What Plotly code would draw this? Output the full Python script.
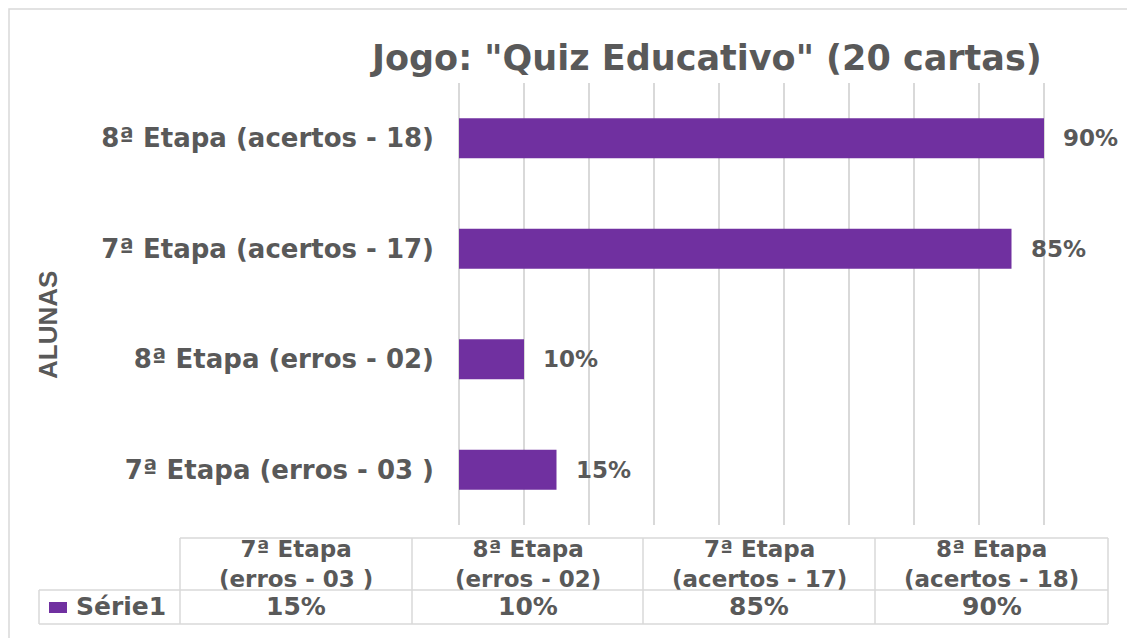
import plotly.graph_objects as go

# data (bottom to top, same order as the data table columns)
categories = [
    "7ª Etapa (erros - 03 )",
    "8ª Etapa (erros - 02)",
    "7ª Etapa (acertos - 17)",
    "8ª Etapa (acertos - 18)",
]
values = [0.15, 0.10, 0.85, 0.90]
series_name = "Série1"
title_text = 'Jogo: "Quiz Educativo" (20 cartas)'
axis_title = "ALUNAS"

OFF = 8  # page body margin of the browser
W, H = 1135 - OFF, 638 - OFF
L, R, T, B = 459, 1109, 83, 525   # plot area in screen pixels
GREY = "#595959"
LINE = "#D9D9D9"
PURPLE = "#7030A0"
FONT = "DejaVu Sans"


def px_x(p):
    return (p - L) / (R - L)


def px_y(p):
    return (B - p) / (B - T)


fig = go.Figure()

fig.add_trace(go.Bar(
    y=categories,
    x=values,
    orientation="h",
    name=series_name,
    marker=dict(color=PURPLE, line=dict(width=0)),
    width=0.36,
    showlegend=False,
))

annotations = []

# data labels next to bars
for cat, v in zip(categories, values):
    annotations.append(dict(
        x=v, y=cat, xref="x", yref="y",
        text=f"{v:.0%}", showarrow=False,
        xanchor="left", xshift=17,
        font=dict(family=FONT, size=23, color=GREY, weight="bold"),
    ))

# title
annotations.append(dict(
    x=px_x(706), y=px_y(58), xref="paper", yref="paper",
    text=title_text, showarrow=False, xanchor="center", yanchor="middle",
    font=dict(family=FONT, size=35, color=GREY, weight="bold"),
))

# y axis title
annotations.append(dict(
    x=px_x(48), y=px_y(325), xref="paper", yref="paper",
    text=axis_title, showarrow=False, textangle=-90,
    xanchor="center", yanchor="middle",
    font=dict(family="Liberation Sans", size=26, color=GREY, weight="bold"),
))

# data table
col_edges = [180, 412, 643, 875, 1108]
row_top, row_mid, row_bot = 538, 590, 624
key_left = 39

shapes = []


def hline(y, x0, x1):
    shapes.append(dict(type="line", xref="paper", yref="paper",
                       x0=px_x(x0), x1=px_x(x1), y0=px_y(y), y1=px_y(y),
                       line=dict(color=LINE, width=1.5)))


def vline(x, y0, y1):
    shapes.append(dict(type="line", xref="paper", yref="paper",
                       x0=px_x(x), x1=px_x(x), y0=px_y(y0), y1=px_y(y1),
                       line=dict(color=LINE, width=1.5)))


hline(row_top, col_edges[0], col_edges[-1])
hline(row_mid, key_left, col_edges[-1])
hline(row_bot, key_left, col_edges[-1])
vline(key_left, row_mid, row_bot)
for ce in col_edges:
    vline(ce, row_top, row_bot)

hfont = dict(family=FONT, size=23, color=GREY, weight="bold")
tfont = dict(family=FONT, size=25, color=GREY, weight="bold")
for i, (cat, v) in enumerate(zip(categories, values)):
    cx = (col_edges[i] + col_edges[i + 1]) / 2
    head, sep, tail = cat.partition(" (")
    annotations.append(dict(x=px_x(cx), y=px_y(564), xref="paper", yref="paper",
                            text=head + "<br>(" + tail, showarrow=False,
                            xanchor="center", yanchor="middle", font=hfont))
    annotations.append(dict(x=px_x(cx), y=px_y(606), xref="paper", yref="paper",
                            text=f"{v:.0%}", showarrow=False, xanchor="center",
                            yanchor="middle", font=tfont))

# legend key + series name in table
shapes.append(dict(type="rect", xref="paper", yref="paper",
                   x0=px_x(49), x1=px_x(67), y0=px_y(613), y1=px_y(602),
                   fillcolor=PURPLE, line=dict(width=0)))
annotations.append(dict(x=px_x(74), y=px_y(606), xref="paper", yref="paper",
                        text=series_name, showarrow=False, xanchor="left",
                        yanchor="middle", font=tfont))

# outer chart border (left and top visible)
shapes.append(dict(type="rect", xref="paper", yref="paper",
                   x0=px_x(9), x1=px_x(1160), y0=px_y(9), y1=px_y(660),
                   line=dict(color=LINE, width=1.5), layer="below"))

fig.update_layout(
    width=W, height=H,
    margin=dict(l=L - OFF, r=W - (R - OFF), t=T - OFF, b=H - (B - OFF), pad=0),
    paper_bgcolor="white",
    plot_bgcolor="white",
    bargap=0.64,
    xaxis=dict(
        range=[0, 1.0], dtick=0.1, tick0=0,
        showgrid=True, gridcolor=LINE, gridwidth=1.5,
        zeroline=True, zerolinecolor=LINE, zerolinewidth=1.5,
        showticklabels=False, showline=False, ticks="",
    ),
    yaxis=dict(
        categoryorder="array", categoryarray=categories,
        range=[-0.5, 3.5],
        showgrid=False, zeroline=False, showline=False, ticks="",
        ticklabelstandoff=24,
        tickfont=dict(family=FONT, size=26, color=GREY, weight="bold"),
    ),
    shapes=shapes,
    annotations=annotations,
)

fig.write_html("out.html")
